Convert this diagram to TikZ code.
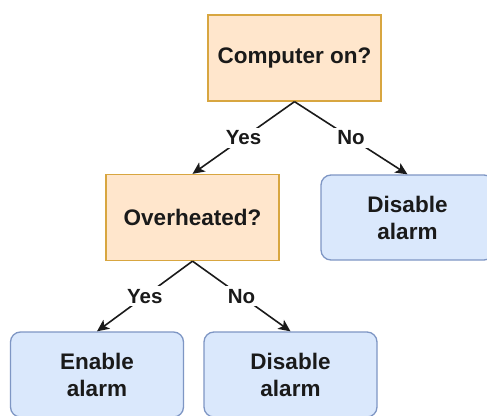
\documentclass[tikz,border=0pt]{standalone}
\usepackage{fontspec}
\setmainfont{Liberation Sans}
\usetikzlibrary{arrows.meta}
\definecolor{ofill}{HTML}{FFE6CC}
\definecolor{odraw}{HTML}{D8A640}
\definecolor{bfill}{HTML}{DAE8FC}
\definecolor{bdraw}{HTML}{7E96C4}
\definecolor{txt}{HTML}{1A1A1A}
\begin{document}
\begin{tikzpicture}[x=1pt,y=-1pt,
  boxtext/.style={text=txt,font=\fontsize{22.5}{27}\selectfont\bfseries,align=center},
  decision/.style={boxtext,draw=odraw,fill=ofill,line width=1.3pt,minimum width=173pt,minimum height=86pt,inner sep=0pt},
  action/.style={boxtext,draw=bdraw,fill=bfill,line width=1.3pt,rounded corners=10pt,minimum width=173pt,minimum height=85pt,inner sep=0pt},
  edge/.style={line width=1.6pt,txt,-{Stealth[length=12pt,width=11pt,inset=3pt]}},
  lbl/.style={fill=white,text=txt,inner sep=3pt,font=\fontsize{20.5}{24}\selectfont\bfseries}]
\useasboundingbox (0,0) rectangle (487,415);
\clip (0,0) rectangle (487,415);
\fill[white] (0,0) rectangle (487,415);
\node[decision] (comp) at (294.5,58) {Computer on?};
\node[decision] (over) at (192.5,217.5) {Overheated?};
\node[action] (dis1) at (407.5,217.5) {Disable\\alarm};
\node[action] (en) at (97,374.5) {Enable\\alarm};
\node[action] (dis2) at (290.5,374.5) {Disable\\alarm};
\draw[edge] (comp.south) -- node[lbl] {Yes} (over.north);
\draw[edge] (comp.south) -- node[lbl] {No} (dis1.north);
\draw[edge] (over.south) -- node[lbl] {Yes} (en.north);
\draw[edge] (over.south) -- node[lbl] {No} (dis2.north);
\end{tikzpicture}
\end{document}
